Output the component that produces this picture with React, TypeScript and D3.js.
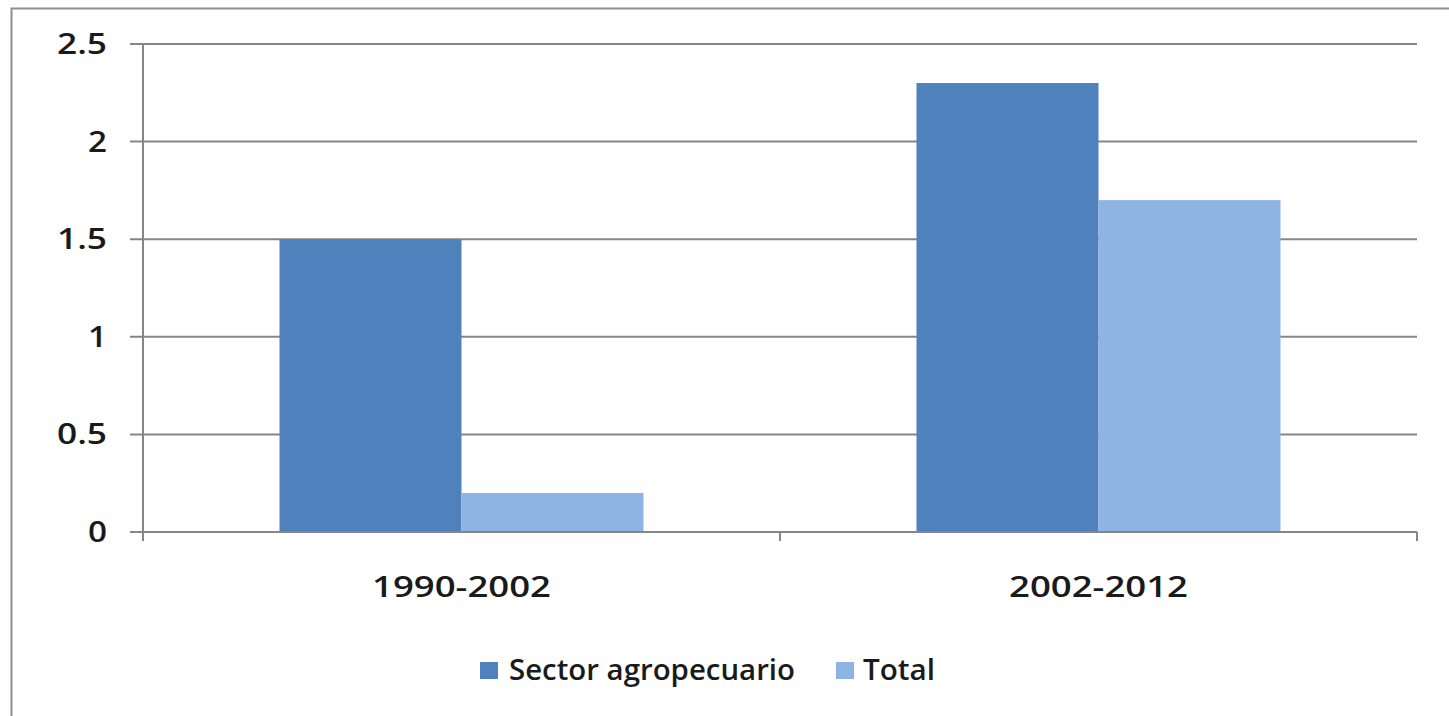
import { useEffect, useRef } from 'react';
import * as d3 from 'd3';

const categories = ['1990-2002', '2002-2012'];
const seriesNames = ['Sector agropecuario', 'Total'];
const sectorAgro = [1.5, 2.3];
const total = [0.2, 1.7];
const yTicks = [0, 0.5, 1, 1.5, 2, 2.5];
const colors = ['#4F81BD', '#8DB4E2'];

export default function App() {
  const svgRef = useRef<SVGSVGElement>(null);

  useEffect(() => {
    if (!svgRef.current) return;
    const svg = d3.select(svgRef.current);
    svg.selectAll('*').remove();

    const W = 1449;
    const H = 716;
    const left = 143;
    const right = 1417;
    const top = 44;
    const bottom = 532;
    const font = '"Open Sans", "Liberation Sans", sans-serif';
    const grid = '#868686';

    svg.append('rect').attr('width', W).attr('height', H).attr('fill', '#fff');
    // outer chart frame
    svg.append('rect')
      .attr('x', 11.5).attr('y', 8.5).attr('width', W + 20).attr('height', H + 20)
      .attr('fill', 'none').attr('stroke', '#8e8e8e').attr('stroke-width', 2);

    const y = d3.scaleLinear().domain([0, 2.5]).range([bottom, top]);
    const x0 = d3.scaleBand().domain(categories).range([left, right]).padding(0);
    const x1 = d3.scaleBand().domain(seriesNames).range([0, x0.bandwidth()])
      .paddingInner(0).paddingOuter(0.75);

    // gridlines + y labels
    yTicks.forEach((t) => {
      svg.append('line')
        .attr('x1', left - 13).attr('x2', right)
        .attr('y1', y(t)).attr('y2', y(t))
        .attr('stroke', grid).attr('stroke-width', 2);
      const label = String(t);
      svg.append('text')
        .attr('x', 107).attr('y', y(t) + 10)
        .attr('text-anchor', 'end')
        .attr('font-family', font).attr('font-size', 28).attr('font-weight', 600)
        .attr('fill', '#1a1a1a')
        .attr('textLength', label.length === 1 ? 19 : 50)
        .attr('lengthAdjust', 'spacingAndGlyphs')
        .text(label);
    });

    const data = categories.map((c, i) => ({ cat: c, vals: [sectorAgro[i], total[i]] }));

    const groups = svg.append('g').selectAll('g').data(data).join('g')
      .attr('transform', (d) => `translate(${x0(d.cat)},0)`);
    groups.selectAll('rect')
      .data((d) => d.vals.map((v, j) => ({ v, name: seriesNames[j], j })))
      .join('rect')
      .attr('x', (d) => x1(d.name)!)
      .attr('y', (d) => y(d.v))
      .attr('width', x1.bandwidth())
      .attr('height', (d) => bottom - y(d.v))
      .attr('fill', (d) => colors[d.j]);

    // axes
    svg.append('line')
      .attr('x1', left).attr('x2', left).attr('y1', top).attr('y2', bottom + 9)
      .attr('stroke', grid).attr('stroke-width', 2);
    svg.append('line')
      .attr('x1', left).attr('x2', right).attr('y1', bottom).attr('y2', bottom)
      .attr('stroke', grid).attr('stroke-width', 2);
    [left, ...categories.map((c) => x0(c)! + x0.bandwidth())].forEach((px) => {
      svg.append('line')
        .attr('x1', px).attr('x2', px).attr('y1', bottom).attr('y2', bottom + 9)
        .attr('stroke', grid).attr('stroke-width', 2);
    });

    categories.forEach((c) => {
      svg.append('text')
        .attr('x', x0(c)! + x0.bandwidth() / 2).attr('y', 597)
        .attr('text-anchor', 'middle')
        .attr('font-family', font).attr('font-size', 28).attr('font-weight', 600)
        .attr('fill', '#1a1a1a')
        .attr('textLength', 179).attr('lengthAdjust', 'spacingAndGlyphs')
        .text(c);
    });

    // legend
    const legend = [
      { name: seriesNames[0], sx: 480, tx: 509, tw: 286 },
      { name: seriesNames[1], sx: 836, tx: 863, tw: 72 },
    ];
    legend.forEach((l, i) => {
      svg.append('rect')
        .attr('x', l.sx).attr('y', 662).attr('width', 18).attr('height', 17)
        .attr('fill', colors[i]);
      svg.append('text')
        .attr('x', l.tx).attr('y', 680)
        .attr('font-family', font).attr('font-size', 28).attr('font-weight', 600)
        .attr('fill', '#1a1a1a')
        .attr('textLength', l.tw).attr('lengthAdjust', 'spacingAndGlyphs')
        .text(l.name);
    });
  }, []);

  return (
    <svg
      ref={svgRef}
      width={1449}
      height={716}
      style={{ position: 'absolute', left: 0, top: 0, display: 'block' }}
    />
  );
}
